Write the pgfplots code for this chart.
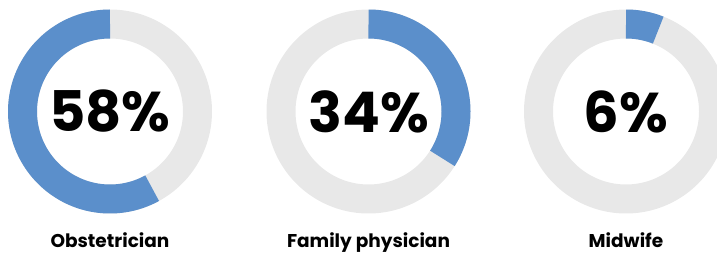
\documentclass[border=0pt]{standalone}
\usepackage{pgfplots}
\pgfplotsset{compat=1.18}
\usepgfplotslibrary{polar}
\usepackage{fontspec}
\setmainfont{Poppins}
\definecolor{ringblue}{RGB}{91,143,203}
\definecolor{ringgrey}{RGB}{232,232,232}
\pgfplotsset{donut/.style={
  hide axis, scale only axis, width=204pt, height=204pt,
  ymin=0, ymax=102, xmin=0, xmax=360, clip=false, anchor=center}}
% #1 centre x, #2 value, #3 label, #4 direction (1 = counterclockwise, -1 = clockwise)
\newcommand{\donut}[4]{%
  \begin{polaraxis}[donut, at={(#1pt,140.5pt)}]
    \addplot[ringgrey, line width=29pt, domain=0:360, samples=240] {87.5};
    \ifnum#4>0
      \addplot[ringblue, line width=29pt, line cap=butt, domain=90:{90+3.6*#2}, samples=200] {87.5};
    \else
      \addplot[ringblue, line width=29pt, line cap=butt, domain={90-3.6*#2}:90, samples=200] {87.5};
    \fi
    \node[font=\fontsize{56}{60}\selectfont\bfseries] at (axis cs:0,0) {#2\%};
    \node[font=\fontsize{18.5}{20}\selectfont\bfseries, anchor=base, inner sep=0pt] at (axis cs:270,136) {#3};
  \end{polaraxis}}
\begin{document}
\begin{tikzpicture}
\clip (0,0) rectangle (717pt,252pt);
\donut{110}{58}{Obstetrician}{1}
\donut{368.5}{34}{Family physician}{-1}
\donut{626}{6}{Midwife}{-1}
\end{tikzpicture}
\end{document}
